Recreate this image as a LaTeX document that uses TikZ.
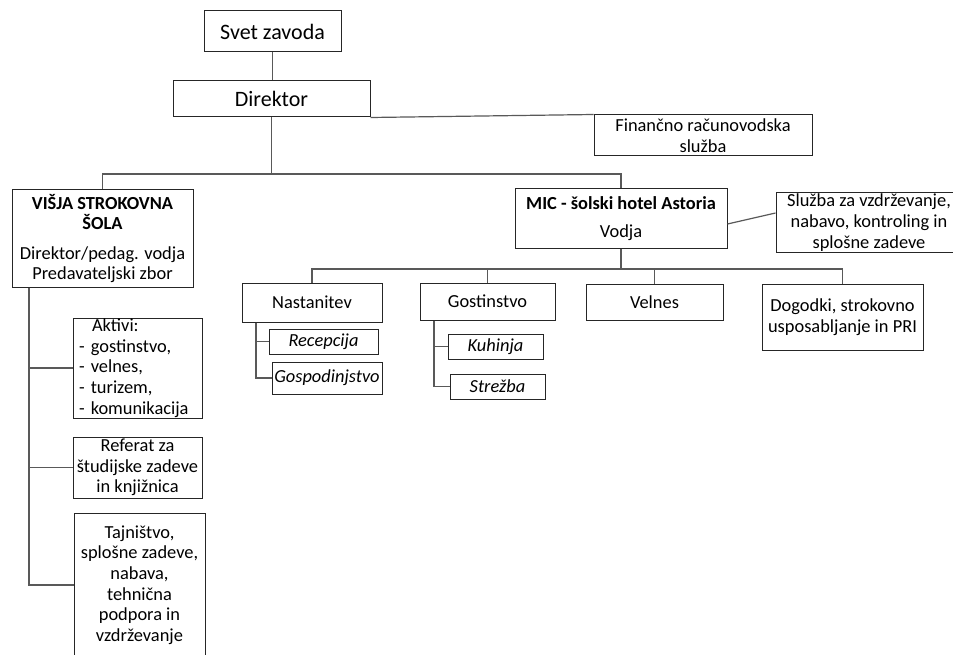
\documentclass[tikz,border=0pt]{standalone}
\usepackage{fontspec}
\setmainfont{Carlito}
\usetikzlibrary{calc}
\begin{document}
\begin{tikzpicture}[x=1pt,y=-1pt,
  box/.style={draw=black!85,line width=1pt,inner sep=0pt,align=center,
    font=\fontsize{18.4}{20.6}\selectfont,fill=white},
  bigbox/.style={box,font=\fontsize{22}{26}\selectfont},
  plain/.style={inner sep=0pt,align=center,font=\fontsize{18.4}{20.6}\selectfont},
  conn/.style={draw=black!65,line width=1.2pt}]
\useasboundingbox[fill=white] (0,0) rectangle (953,655);
% boxes: center, width, height
\node[bigbox,minimum width=137pt,minimum height=41pt] (svet) at (272.5,31.5) {Svet zavoda};
\node[bigbox,minimum width=197pt,minimum height=36pt] (dir) at (271.5,99) {Direktor};
\node[box,minimum width=218pt,minimum height=41pt] (fin) at (703,135.5) {Finančno računovodska\\služba};
\node[box,minimum width=181pt,minimum height=97pt] (visja) at (102.5,238.5)
  {\textbf{VIŠJA STROKOVNA}\\\textbf{ŠOLA}\\[9pt]Direktor/pedag. vodja\\Predavateljski zbor};
\node[box,minimum width=212pt,minimum height=59pt] (mic) at (621,218.5)
  {\textbf{MIC - šolski hotel Astoria}\\[8pt]Vodja};
\node[box,minimum width=186pt,minimum height=60pt] (sluzba) at (869,222.5)
  {Služba za vzdrževanje,\\nabavo, kontroling in\\splošne zadeve};
\node[box,minimum width=140pt,minimum height=39pt] (nast) at (312,302.5) {Nastanitev};
\node[box,minimum width=135pt,minimum height=37pt] (gost) at (487.5,301.5) {Gostinstvo};
\node[box,minimum width=137pt,minimum height=36pt] (velnes) at (654.5,302) {Velnes};
\node[box,minimum width=161pt,minimum height=66pt] (dog) at (842.5,317)
  {Dogodki, strokovno\\usposabljanje in PRI};
\node[box,minimum width=109pt,minimum height=25pt] (recep) at (323.5,341.5) {\itshape Recepcija};
\node[box,minimum width=110pt,minimum height=32pt] (gospod) at (327,378) {\itshape Gospodinjstvo};
\node[box,minimum width=95pt,minimum height=25pt] (kuh) at (495.5,346.5) {\itshape Kuhinja};
\node[box,minimum width=95pt,minimum height=25pt] (strez) at (497.5,386.5) {\itshape Strežba};
\node[box,minimum width=129pt,minimum height=100pt,align=left,inner xsep=6pt,text width=117pt] (aktivi) at (137.5,368)
  {\hspace*{13pt}Aktivi:\\- gostinstvo,\\- velnes,\\- turizem,\\- komunikacija};
\node[box,minimum width=129pt,minimum height=61pt] (referat) at (137.5,467.5)
  {Referat za\\študijske zadeve\\in knjižnica};
\node[box,minimum width=131pt,minimum height=170pt] (tajn) at (139.5,598) {};
\node[plain] (tajnt) at (139.5,585)
  {Tajništvo,\\splošne zadeve,\\nabava,\\tehnična\\podpora in\\vzdrževanje};
% junctions
\coordinate (j1) at (271.5,174);
\coordinate (j2) at (621,269);
% connectors
\draw[conn] (svet.south) -- (svet.south |- dir.north);
\draw[conn] (dir.south) -- (j1);
\draw[conn] (j1) -| (visja.north);
\draw[conn] (j1) -| (mic.north);
\draw[conn] (dir.south east) -- (fin.north west);
\draw[conn] ([yshift=-5.5pt]mic.east) -- ([yshift=9.5pt]sluzba.west);
\draw[conn] (mic.south) -- (j2);
\draw[conn] (j2) -| (nast.north);
\draw[conn] (j2) -| (gost.north);
\draw[conn] (j2) -| (velnes.north);
\draw[conn] (j2) -| (dog.north);
\draw[conn] ([xshift=-56pt]nast.south) |- (recep.west);
\draw[conn] ([xshift=-56pt]nast.south) |- (gospod.west);
\draw[conn] ([xshift=-53.5pt]gost.south) |- (kuh.west);
\draw[conn] ([xshift=-53.5pt]gost.south) |- (strez.west);
\draw[conn] ([xshift=-73.5pt]visja.south) |- (aktivi.west);
\draw[conn] ([xshift=-73.5pt]visja.south) |- (referat.west);
\draw[conn] ([xshift=-73.5pt]visja.south) |- ([yshift=13pt]tajn.west);
\end{tikzpicture}
\end{document}
